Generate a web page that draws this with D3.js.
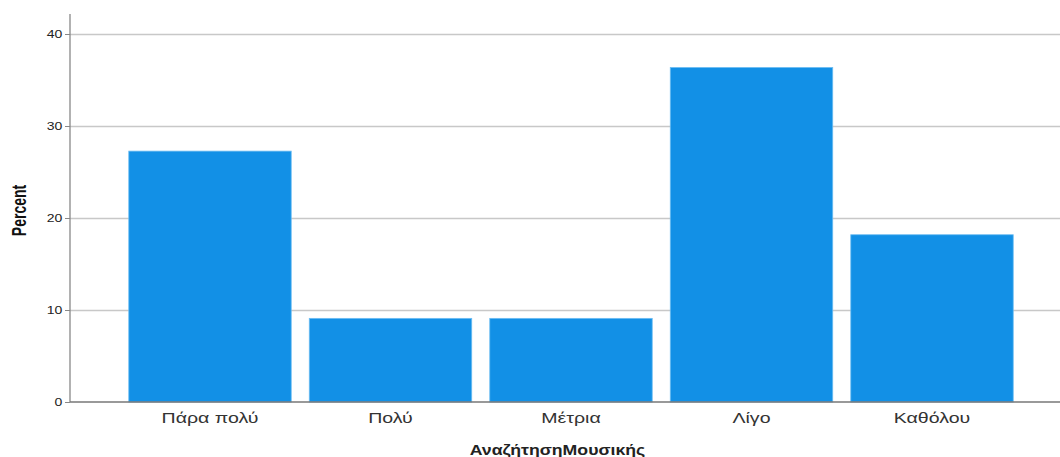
<!DOCTYPE html>
<html>
<head>
<meta charset="utf-8">
<script src="https://cdn.jsdelivr.net/npm/d3@7"></script>
<style>
  body { margin: 0; background: #fff; }
  svg { display: block; font-family: Arial, "Liberation Sans", sans-serif; }
</style>
</head>
<body>
<div id="chart"></div>
<script>
let categories = ['Πάρα πολύ', 'Πολύ', 'Μέτρια', 'Λίγο', 'Καθόλου']
let percents = [27.27, 9.09, 9.09, 36.36, 18.18]
let yTicks = [0, 10, 20, 30, 40]

let W = 1060, H = 457
let svg = d3.select('#chart').append('svg').attr('width', W).attr('height', H)

let x = d3.scaleBand()
          .domain(categories)
          .range([119.75, 1022.25])
          .paddingInner(0.1)
          .paddingOuter(0.05)

let y = d3.scaleLinear()
          .domain([0, 40])
          .range([402, 34])

// grid
svg.append('g')
   .selectAll('line')
   .data(yTicks.filter(d => d > 0))
   .enter()
   .append('line')
   .attr('x1', 70).attr('x2', W)
   .attr('y1', d => y(d) + 0.5).attr('y2', d => y(d) + 0.5)
   .attr('stroke', '#c8c8c8')
   .attr('stroke-width', 1.3)

// bars
svg.append('g')
   .selectAll('rect')
   .data(percents)
   .enter()
   .append('rect')
   .attr('x', (d, i) => x(categories[i]))
   .attr('width', x.bandwidth())
   .attr('y', d => y(d))
   .attr('height', d => y(0) - y(d))
   .attr('fill', '#1290e6')
   .attr('stroke', '#6cbcf2')
   .attr('stroke-width', 0.8)

// y axis (text is stretched sideways like the source picture)
let yAxis = d3.axisLeft(y).tickValues(yTicks).tickSize(6).tickPadding(0)
let yg = svg.append('g').attr('transform', 'translate(70,0)').call(yAxis)
yg.select('.domain').remove()
yg.selectAll('.tick line').attr('stroke', '#888').attr('x2', 0).attr('x1', -5)
yg.selectAll('.tick text')
  .attr('x', 0)
  .attr('transform', 'translate(-7.7,0) scale(1.3,1)')
  .attr('font-size', 10.8).attr('fill', '#222')
svg.append('line')
   .attr('x1', 70).attr('x2', 70).attr('y1', 14).attr('y2', 402)
   .attr('stroke', '#888').attr('stroke-width', 1.3)

// x axis
let xAxis = d3.axisBottom(x).tickSize(0).tickPadding(10)
let xg = svg.append('g').attr('transform', 'translate(0,402)').call(xAxis)
xg.select('.domain').remove()
xg.selectAll('.tick text')
  .attr('transform', 'scale(1.27,1)')
  .attr('font-size', 15.4).attr('fill', '#333')
svg.append('line')
   .attr('x1', 70).attr('x2', W).attr('y1', 402).attr('y2', 402)
   .attr('stroke', '#777').attr('stroke-width', 1.3)

// titles
svg.append('text')
   .attr('transform', 'translate(557.5,454.5) scale(1.18,1)')
   .attr('text-anchor', 'middle')
   .attr('font-size', 15).attr('font-weight', 'bold').attr('fill', '#222')
   .text('ΑναζήτησηΜουσικής')

svg.append('text')
   .attr('transform', 'translate(26,210.5) scale(1.4,1) rotate(-90)')
   .attr('text-anchor', 'middle')
   .attr('font-size', 14).attr('font-weight', 'bold').attr('fill', '#111')
   .text('Percent')
</script>
</body>
</html>
